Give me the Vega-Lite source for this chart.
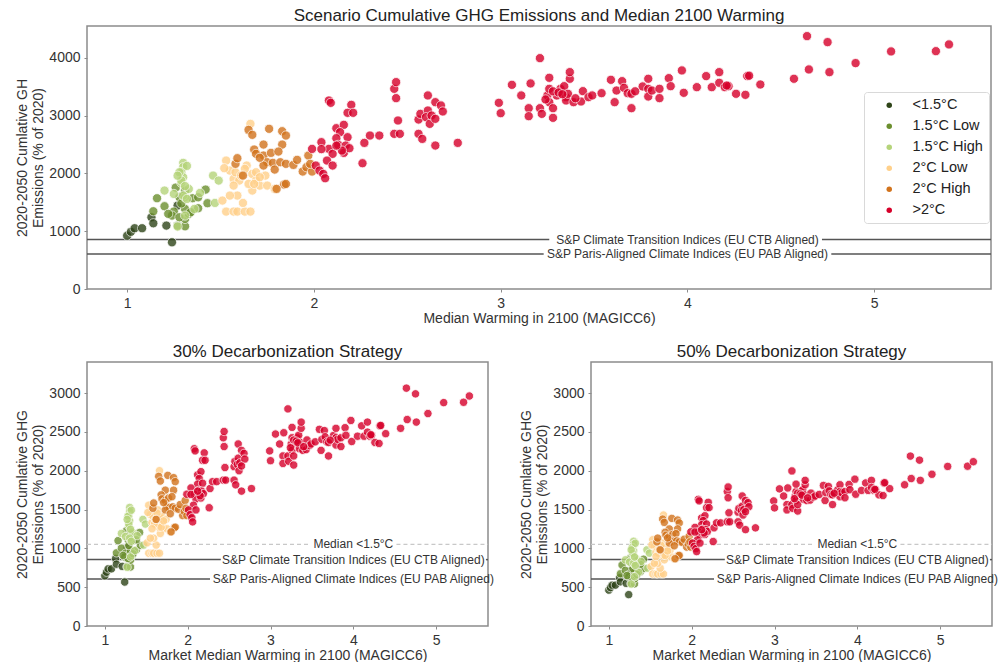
{
  "$schema": "https://vega.github.io/schema/vega-lite/v6.json",
  "padding": {"left": 15, "top": 6, "right": 5, "bottom": 2},
  "config": {
    "font": "Liberation Sans",
    "view": {"stroke": "#8c8c8c", "strokeWidth": 1.5},
    "axis": {"grid": false, "domain": false, "tickSize": 3, "tickColor": "#8c8c8c", "labelFontSize": 14, "labelColor": "#333333", "titleFontSize": 14, "titleFontWeight": "normal", "titleColor": "#333333", "labelPadding": 4, "format": "d"},
    "axisY": {"titlePadding": 3, "titleLineHeight": 16},
    "axisX": {"titlePadding": 1},
    "title": {"fontSize": 17, "fontWeight": "normal", "color": "#222222", "frame": "group", "offset": 1}
  },
  "datasets": {
    "pts": [
      {"c":"<1.5°C","x":1.00,"y":923,"y30":646,"y50":462},
      {"c":"<1.5°C","x":1.02,"y":990,"y30":693,"y50":495},
      {"c":"<1.5°C","x":1.04,"y":1051,"y30":736,"y50":526},
      {"c":"<1.5°C","x":1.08,"y":1051,"y30":736,"y50":526},
      {"c":"<1.5°C","x":1.13,"y":1241,"y30":869,"y50":621},
      {"c":"<1.5°C","x":1.14,"y":1137,"y30":796,"y50":569},
      {"c":"<1.5°C","x":1.21,"y":1097,"y30":768,"y50":549},
      {"c":"<1.5°C","x":1.24,"y":808,"y30":566,"y50":404},
      {"c":"<1.5°C","x":1.27,"y":1443,"y30":1010,"y50":722},
      {"c":"1.5°C Low","x":1.14,"y":1345,"y30":942,"y50":673},
      {"c":"1.5°C Low","x":1.16,"y":1570,"y30":1099,"y50":785},
      {"c":"1.5°C Low","x":1.20,"y":1432,"y30":1002,"y50":716},
      {"c":"1.5°C Low","x":1.25,"y":1339,"y30":937,"y50":670},
      {"c":"1.5°C Low","x":1.27,"y":1097,"y30":768,"y50":549},
      {"c":"1.5°C Low","x":1.26,"y":1754,"y30":1228,"y50":877},
      {"c":"1.5°C Low","x":1.31,"y":1703,"y30":1192,"y50":852},
      {"c":"1.5°C Low","x":1.31,"y":1085,"y30":760,"y50":543},
      {"c":"1.5°C Low","x":1.31,"y":1212,"y30":848,"y50":606},
      {"c":"1.5°C Low","x":1.35,"y":1570,"y30":1099,"y50":785},
      {"c":"1.5°C Low","x":1.38,"y":1397,"y30":978,"y50":699},
      {"c":"1.5°C Low","x":1.42,"y":1720,"y30":1204,"y50":860},
      {"c":"1.5°C Low","x":1.43,"y":1484,"y30":1039,"y50":742},
      {"c":"1.5°C Low","x":1.24,"y":1270,"y30":889,"y50":635},
      {"c":"1.5°C Low","x":1.28,"y":1241,"y30":869,"y50":621},
      {"c":"1.5°C Low","x":1.33,"y":1299,"y30":909,"y50":650},
      {"c":"1.5°C Low","x":1.28,"y":1588,"y30":1112,"y50":794},
      {"c":"1.5°C Low","x":1.31,"y":1385,"y30":970,"y50":693},
      {"c":"1.5°C Low","x":1.38,"y":1587,"y30":1111,"y50":794},
      {"c":"1.5°C Low","x":1.34,"y":1328,"y30":930,"y50":664},
      {"c":"1.5°C Low","x":1.29,"y":1480,"y30":1036,"y50":740},
      {"c":"1.5°C Low","x":1.22,"y":1300,"y30":910,"y50":650},
      {"c":"1.5°C High","x":1.30,"y":2182,"y30":1527,"y50":1091},
      {"c":"1.5°C High","x":1.30,"y":2107,"y30":1475,"y50":1054},
      {"c":"1.5°C High","x":1.29,"y":2020,"y30":1414,"y50":1010},
      {"c":"1.5°C High","x":1.30,"y":1934,"y30":1354,"y50":967},
      {"c":"1.5°C High","x":1.29,"y":1835,"y30":1285,"y50":918},
      {"c":"1.5°C High","x":1.20,"y":1703,"y30":1192,"y50":852},
      {"c":"1.5°C High","x":1.25,"y":1645,"y30":1152,"y50":823},
      {"c":"1.5°C High","x":1.31,"y":1588,"y30":1112,"y50":794},
      {"c":"1.5°C High","x":1.33,"y":1732,"y30":1212,"y50":866},
      {"c":"1.5°C High","x":1.39,"y":1662,"y30":1163,"y50":831},
      {"c":"1.5°C High","x":1.46,"y":1962,"y30":1373,"y50":981},
      {"c":"1.5°C High","x":1.49,"y":1876,"y30":1313,"y50":938},
      {"c":"1.5°C High","x":1.47,"y":1489,"y30":1042,"y50":745},
      {"c":"1.5°C High","x":1.36,"y":1385,"y30":970,"y50":693},
      {"c":"1.5°C High","x":1.27,"y":1080,"y30":756,"y50":540},
      {"c":"1.5°C High","x":1.28,"y":2020,"y30":1414,"y50":1010},
      {"c":"1.5°C High","x":1.29,"y":1876,"y30":1313,"y50":938},
      {"c":"1.5°C High","x":1.30,"y":1616,"y30":1131,"y50":808},
      {"c":"1.5°C High","x":1.32,"y":1558,"y30":1091,"y50":779},
      {"c":"1.5°C High","x":1.31,"y":1270,"y30":889,"y50":635},
      {"c":"1.5°C High","x":1.32,"y":2130,"y30":1491,"y50":1065},
      {"c":"1.5°C High","x":1.27,"y":1960,"y30":1372,"y50":980},
      {"c":"1.5°C High","x":1.31,"y":1780,"y30":1246,"y50":890},
      {"c":"2°C Low","x":1.66,"y":2857,"y30":2000,"y50":1429},
      {"c":"2°C Low","x":1.53,"y":2222,"y30":1555,"y50":1111},
      {"c":"2°C Low","x":1.55,"y":2049,"y30":1434,"y50":1025},
      {"c":"2°C Low","x":1.57,"y":1905,"y30":1334,"y50":953},
      {"c":"2°C Low","x":1.51,"y":1530,"y30":1071,"y50":765},
      {"c":"2°C Low","x":1.53,"y":1339,"y30":937,"y50":670},
      {"c":"2°C Low","x":1.57,"y":1339,"y30":937,"y50":670},
      {"c":"2°C Low","x":1.59,"y":1339,"y30":937,"y50":670},
      {"c":"2°C Low","x":1.63,"y":1339,"y30":937,"y50":670},
      {"c":"2°C Low","x":1.66,"y":1339,"y30":937,"y50":670},
      {"c":"2°C Low","x":1.62,"y":1489,"y30":1042,"y50":745},
      {"c":"2°C Low","x":1.59,"y":1616,"y30":1131,"y50":808},
      {"c":"2°C Low","x":1.55,"y":1616,"y30":1131,"y50":808},
      {"c":"2°C Low","x":1.64,"y":2136,"y30":1495,"y50":1068},
      {"c":"2°C Low","x":1.67,"y":1991,"y30":1394,"y50":996},
      {"c":"2°C Low","x":1.69,"y":1876,"y30":1313,"y50":938},
      {"c":"2°C Low","x":1.71,"y":1789,"y30":1252,"y50":895},
      {"c":"2°C Low","x":1.67,"y":1703,"y30":1192,"y50":852},
      {"c":"2°C Low","x":1.65,"y":1818,"y30":1273,"y50":909},
      {"c":"2°C Low","x":1.75,"y":1789,"y30":1252,"y50":895},
      {"c":"2°C Low","x":1.69,"y":2020,"y30":1414,"y50":1010},
      {"c":"2°C Low","x":1.74,"y":1962,"y30":1373,"y50":981},
      {"c":"2°C Low","x":1.60,"y":1876,"y30":1313,"y50":938},
      {"c":"2°C Low","x":1.58,"y":2020,"y30":1414,"y50":1010},
      {"c":"2°C Low","x":1.63,"y":2078,"y30":1455,"y50":1039},
      {"c":"2°C Low","x":1.68,"y":1818,"y30":1273,"y50":909},
      {"c":"2°C Low","x":1.71,"y":1934,"y30":1354,"y50":967},
      {"c":"2°C Low","x":1.57,"y":1789,"y30":1252,"y50":895},
      {"c":"2°C Low","x":1.52,"y":2090,"y30":1463,"y50":1045},
      {"c":"2°C Low","x":1.79,"y":1732,"y30":1212,"y50":866},
      {"c":"2°C Low","x":1.61,"y":1962,"y30":1373,"y50":981},
      {"c":"2°C High","x":1.65,"y":2753,"y30":1927,"y50":1377},
      {"c":"2°C High","x":1.67,"y":2667,"y30":1867,"y50":1334},
      {"c":"2°C High","x":1.76,"y":2771,"y30":1940,"y50":1386},
      {"c":"2°C High","x":1.83,"y":2730,"y30":1911,"y50":1365},
      {"c":"2°C High","x":1.85,"y":2655,"y30":1859,"y50":1328},
      {"c":"2°C High","x":1.73,"y":2499,"y30":1749,"y50":1250},
      {"c":"2°C High","x":1.83,"y":2499,"y30":1749,"y50":1250},
      {"c":"2°C High","x":1.68,"y":2413,"y30":1689,"y50":1207},
      {"c":"2°C High","x":1.69,"y":2338,"y30":1637,"y50":1169},
      {"c":"2°C High","x":1.73,"y":2309,"y30":1616,"y50":1155},
      {"c":"2°C High","x":1.77,"y":2355,"y30":1649,"y50":1178},
      {"c":"2°C High","x":1.81,"y":2378,"y30":1665,"y50":1189},
      {"c":"2°C High","x":1.75,"y":2193,"y30":1535,"y50":1097},
      {"c":"2°C High","x":1.78,"y":2182,"y30":1527,"y50":1091},
      {"c":"2°C High","x":1.82,"y":2193,"y30":1535,"y50":1097},
      {"c":"2°C High","x":1.85,"y":2165,"y30":1516,"y50":1083},
      {"c":"2°C High","x":1.89,"y":2147,"y30":1503,"y50":1074},
      {"c":"2°C High","x":1.91,"y":2234,"y30":1564,"y50":1117},
      {"c":"2°C High","x":1.73,"y":2136,"y30":1495,"y50":1068},
      {"c":"2°C High","x":1.79,"y":2066,"y30":1446,"y50":1033},
      {"c":"2°C High","x":1.58,"y":2165,"y30":1516,"y50":1083},
      {"c":"2°C High","x":1.59,"y":2263,"y30":1584,"y50":1132},
      {"c":"2°C High","x":1.62,"y":1962,"y30":1373,"y50":981},
      {"c":"2°C High","x":1.84,"y":1807,"y30":1265,"y50":904},
      {"c":"2°C High","x":1.85,"y":1818,"y30":1273,"y50":909},
      {"c":"2°C High","x":1.94,"y":2032,"y30":1422,"y50":1016},
      {"c":"2°C High","x":1.96,"y":2107,"y30":1475,"y50":1054},
      {"c":"2°C High","x":1.97,"y":2309,"y30":1616,"y50":1155},
      {"c":"2°C High","x":1.99,"y":2032,"y30":1422,"y50":1016},
      {"c":"2°C High","x":1.98,"y":2165,"y30":1516,"y50":1083},
      {"c":"2°C High","x":1.80,"y":1732,"y30":1212,"y50":866},
      {"c":"2°C High","x":1.71,"y":2270,"y30":1589,"y50":1135},
      {"c":">2°C","x":2.08,"y":3261,"y30":2283,"y50":1631},
      {"c":">2°C","x":2.09,"y":3221,"y30":2255,"y50":1611},
      {"c":">2°C","x":2.20,"y":3186,"y30":2230,"y50":1593},
      {"c":">2°C","x":2.18,"y":3048,"y30":2134,"y50":1524},
      {"c":">2°C","x":2.21,"y":3048,"y30":2134,"y50":1524},
      {"c":">2°C","x":2.12,"y":2782,"y30":1947,"y50":1391},
      {"c":">2°C","x":2.16,"y":2840,"y30":1988,"y50":1420},
      {"c":">2°C","x":2.14,"y":2713,"y30":1899,"y50":1357},
      {"c":">2°C","x":2.12,"y":2609,"y30":1826,"y50":1305},
      {"c":">2°C","x":2.18,"y":2626,"y30":1838,"y50":1313},
      {"c":">2°C","x":2.13,"y":2494,"y30":1746,"y50":1247},
      {"c":">2°C","x":2.17,"y":2482,"y30":1737,"y50":1241},
      {"c":">2°C","x":2.04,"y":2540,"y30":1778,"y50":1270},
      {"c":">2°C","x":1.99,"y":2424,"y30":1697,"y50":1212},
      {"c":">2°C","x":2.08,"y":2424,"y30":1697,"y50":1212},
      {"c":">2°C","x":2.10,"y":2338,"y30":1637,"y50":1169},
      {"c":">2°C","x":2.16,"y":2355,"y30":1649,"y50":1178},
      {"c":">2°C","x":2.19,"y":2436,"y30":1705,"y50":1218},
      {"c":">2°C","x":2.15,"y":2395,"y30":1677,"y50":1198},
      {"c":">2°C","x":2.07,"y":2222,"y30":1555,"y50":1111},
      {"c":">2°C","x":2.01,"y":2136,"y30":1495,"y50":1068},
      {"c":">2°C","x":2.03,"y":2049,"y30":1434,"y50":1025},
      {"c":">2°C","x":2.05,"y":1991,"y30":1394,"y50":996},
      {"c":">2°C","x":2.06,"y":1916,"y30":1341,"y50":958},
      {"c":">2°C","x":2.10,"y":2136,"y30":1495,"y50":1068},
      {"c":">2°C","x":2.26,"y":2176,"y30":1523,"y50":1088},
      {"c":">2°C","x":2.27,"y":2528,"y30":1770,"y50":1264},
      {"c":">2°C","x":2.30,"y":2655,"y30":1859,"y50":1328},
      {"c":">2°C","x":2.35,"y":2655,"y30":1859,"y50":1328},
      {"c":">2°C","x":2.43,"y":3463,"y30":2424,"y50":1732},
      {"c":">2°C","x":2.44,"y":3579,"y30":2505,"y50":1790},
      {"c":">2°C","x":2.44,"y":3302,"y30":2311,"y50":1651},
      {"c":">2°C","x":2.45,"y":2915,"y30":2041,"y50":1458},
      {"c":">2°C","x":2.43,"y":2684,"y30":1879,"y50":1342},
      {"c":">2°C","x":2.46,"y":2684,"y30":1879,"y50":1342},
      {"c":">2°C","x":2.56,"y":2932,"y30":2052,"y50":1466},
      {"c":">2°C","x":2.56,"y":2684,"y30":1879,"y50":1342},
      {"c":">2°C","x":2.58,"y":2597,"y30":1818,"y50":1299},
      {"c":">2°C","x":2.57,"y":3030,"y30":2121,"y50":1515},
      {"c":">2°C","x":2.61,"y":3348,"y30":2344,"y50":1674},
      {"c":">2°C","x":2.61,"y":3088,"y30":2162,"y50":1544},
      {"c":">2°C","x":2.60,"y":2973,"y30":2081,"y50":1487},
      {"c":">2°C","x":2.62,"y":2857,"y30":2000,"y50":1429},
      {"c":">2°C","x":2.63,"y":3001,"y30":2101,"y50":1501},
      {"c":">2°C","x":2.65,"y":3232,"y30":2262,"y50":1616},
      {"c":">2°C","x":2.68,"y":3175,"y30":2223,"y50":1588},
      {"c":">2°C","x":2.69,"y":3071,"y30":2150,"y50":1536},
      {"c":">2°C","x":2.65,"y":2944,"y30":2061,"y50":1472},
      {"c":">2°C","x":2.65,"y":2482,"y30":1737,"y50":1241},
      {"c":">2°C","x":2.77,"y":2528,"y30":1770,"y50":1264},
      {"c":">2°C","x":2.04,"y":2420,"y30":1694,"y50":1210},
      {"c":">2°C","x":2.12,"y":2480,"y30":1736,"y50":1240},
      {"c":">2°C","x":2.99,"y":3221,"y30":2255,"y50":1611},
      {"c":">2°C","x":3.00,"y":3042,"y30":2129,"y50":1521},
      {"c":">2°C","x":3.06,"y":3532,"y30":2472,"y50":1766},
      {"c":">2°C","x":3.11,"y":3348,"y30":2344,"y50":1674},
      {"c":">2°C","x":3.15,"y":3128,"y30":2190,"y50":1564},
      {"c":">2°C","x":3.15,"y":2990,"y30":2093,"y50":1495},
      {"c":">2°C","x":3.16,"y":3556,"y30":2489,"y50":1778},
      {"c":">2°C","x":3.21,"y":3994,"y30":2796,"y50":1997},
      {"c":">2°C","x":3.21,"y":3128,"y30":2190,"y50":1564},
      {"c":">2°C","x":3.22,"y":3030,"y30":2121,"y50":1515},
      {"c":">2°C","x":3.25,"y":3348,"y30":2344,"y50":1674},
      {"c":">2°C","x":3.26,"y":3463,"y30":2424,"y50":1732},
      {"c":">2°C","x":3.26,"y":3654,"y30":2558,"y50":1827},
      {"c":">2°C","x":3.26,"y":3232,"y30":2262,"y50":1616},
      {"c":">2°C","x":3.28,"y":2961,"y30":2073,"y50":1481},
      {"c":">2°C","x":3.28,"y":3128,"y30":2190,"y50":1564},
      {"c":">2°C","x":3.30,"y":3348,"y30":2344,"y50":1674},
      {"c":">2°C","x":3.32,"y":3463,"y30":2424,"y50":1732},
      {"c":">2°C","x":3.34,"y":3509,"y30":2456,"y50":1755},
      {"c":">2°C","x":3.35,"y":3319,"y30":2323,"y50":1660},
      {"c":">2°C","x":3.35,"y":3261,"y30":2283,"y50":1631},
      {"c":">2°C","x":3.36,"y":3377,"y30":2364,"y50":1689},
      {"c":">2°C","x":3.37,"y":3637,"y30":2546,"y50":1819},
      {"c":">2°C","x":3.37,"y":3752,"y30":2626,"y50":1876},
      {"c":">2°C","x":3.39,"y":3232,"y30":2262,"y50":1616},
      {"c":">2°C","x":3.43,"y":3244,"y30":2271,"y50":1622},
      {"c":">2°C","x":3.44,"y":3423,"y30":2396,"y50":1712},
      {"c":">2°C","x":3.47,"y":3319,"y30":2323,"y50":1660},
      {"c":">2°C","x":3.49,"y":3348,"y30":2344,"y50":1674},
      {"c":">2°C","x":3.54,"y":3388,"y30":2372,"y50":1694},
      {"c":">2°C","x":3.59,"y":3619,"y30":2533,"y50":1810},
      {"c":">2°C","x":3.61,"y":3232,"y30":2262,"y50":1616},
      {"c":">2°C","x":3.62,"y":3434,"y30":2404,"y50":1717},
      {"c":">2°C","x":3.65,"y":3596,"y30":2517,"y50":1798},
      {"c":">2°C","x":3.66,"y":3480,"y30":2436,"y50":1740},
      {"c":">2°C","x":3.68,"y":3388,"y30":2372,"y50":1694},
      {"c":">2°C","x":3.70,"y":3128,"y30":2190,"y50":1564},
      {"c":">2°C","x":3.70,"y":3377,"y30":2364,"y50":1689},
      {"c":">2°C","x":3.76,"y":3504,"y30":2453,"y50":1752},
      {"c":">2°C","x":3.79,"y":3637,"y30":2546,"y50":1819},
      {"c":">2°C","x":3.79,"y":3463,"y30":2424,"y50":1732},
      {"c":">2°C","x":3.79,"y":3330,"y30":2331,"y50":1665},
      {"c":">2°C","x":3.81,"y":3434,"y30":2404,"y50":1717},
      {"c":">2°C","x":3.85,"y":3463,"y30":2424,"y50":1732},
      {"c":">2°C","x":3.85,"y":3302,"y30":2311,"y50":1651},
      {"c":">2°C","x":3.90,"y":3648,"y30":2554,"y50":1824},
      {"c":">2°C","x":3.91,"y":3509,"y30":2456,"y50":1755},
      {"c":">2°C","x":3.97,"y":3781,"y30":2647,"y50":1891},
      {"c":">2°C","x":3.98,"y":3394,"y30":2376,"y50":1697},
      {"c":">2°C","x":4.05,"y":3492,"y30":2444,"y50":1746},
      {"c":">2°C","x":4.10,"y":3683,"y30":2578,"y50":1842},
      {"c":">2°C","x":4.13,"y":3492,"y30":2444,"y50":1746},
      {"c":">2°C","x":4.17,"y":3752,"y30":2626,"y50":1876},
      {"c":">2°C","x":4.17,"y":3567,"y30":2497,"y50":1784},
      {"c":">2°C","x":4.20,"y":3492,"y30":2444,"y50":1746},
      {"c":">2°C","x":4.22,"y":3509,"y30":2456,"y50":1755},
      {"c":">2°C","x":4.26,"y":3377,"y30":2364,"y50":1689},
      {"c":">2°C","x":4.31,"y":3359,"y30":2351,"y50":1680},
      {"c":">2°C","x":4.32,"y":3683,"y30":2578,"y50":1842},
      {"c":">2°C","x":4.39,"y":3538,"y30":2477,"y50":1769},
      {"c":">2°C","x":4.57,"y":3637,"y30":2546,"y50":1819},
      {"c":">2°C","x":4.64,"y":4375,"y30":3063,"y50":2188},
      {"c":">2°C","x":4.65,"y":3798,"y30":2659,"y50":1899},
      {"c":">2°C","x":4.75,"y":4271,"y30":2990,"y50":2136},
      {"c":">2°C","x":4.76,"y":3752,"y30":2626,"y50":1876},
      {"c":">2°C","x":4.90,"y":3908,"y30":2736,"y50":1954},
      {"c":">2°C","x":5.09,"y":4110,"y30":2877,"y50":2055},
      {"c":">2°C","x":5.33,"y":4115,"y30":2881,"y50":2058},
      {"c":">2°C","x":5.40,"y":4231,"y30":2962,"y50":2116},
      {"c":">2°C","x":3.28,"y":3420,"y30":2394,"y50":1710},
      {"c":">2°C","x":3.31,"y":3400,"y30":2380,"y50":1700},
      {"c":">2°C","x":3.33,"y":3370,"y30":2359,"y50":1685},
      {"c":">2°C","x":3.40,"y":3300,"y30":2310,"y50":1650},
      {"c":">2°C","x":3.24,"y":3280,"y30":2296,"y50":1640},
      {"c":">2°C","x":3.72,"y":3420,"y30":2394,"y50":1710},
      {"c":">2°C","x":4.33,"y":3690,"y30":2583,"y50":1845},
      {"c":">2°C","x":4.21,"y":3520,"y30":2464,"y50":1760}
    ],
    "topRules": [
      {"y":855,"x":0.785,"x2":3.26},
      {"y":855,"x":4.72,"x2":5.625},
      {"y":605,"x":0.785,"x2":3.23},
      {"y":605,"x":4.77,"x2":5.625}
    ],
    "topText": [
      {"t":"S&P Climate Transition Indices (EU CTB Aligned)","x":4.0,"y":855},
      {"t":"S&P Paris-Aligned Climate Indices (EU PAB Aligned)","x":4.0,"y":605}
    ],
    "botRules": [
      {"y":855,"x":0.785,"x2":2.40},
      {"y":855,"x":5.60,"x2":5.625},
      {"y":605,"x":0.785,"x2":2.27}
    ],
    "botDash": [
      {"y":1050,"x":0.785,"x2":3.48},
      {"y":1050,"x":4.52,"x2":5.625}
    ],
    "botText": [
      {"t":"Median <1.5°C","x":4.0,"y":1050},
      {"t":"S&P Climate Transition Indices (EU CTB Aligned)","x":4.0,"y":855},
      {"t":"S&P Paris-Aligned Climate Indices (EU PAB Aligned)","x":4.0,"y":605}
    ]
  },
  "resolve": {"scale": {"color": "independent"}, "legend": {"color": "independent"}},
  "spacing": 16,
  "vconcat": [
    {
      "width": 904,
      "height": 263,
      "title": {"text": "Scenario Cumulative GHG Emissions and Median 2100 Warming"},
      "layer": [
        {
          "data": {"name": "topRules"},
          "mark": {"type": "rule", "color": "#555555", "strokeWidth": 1.5},
          "encoding": {
            "x": {"field": "x", "type": "quantitative", "scale": {"domain": [0.785, 5.625], "nice": false, "zero": false}},
            "x2": {"field": "x2"},
            "y": {"field": "y", "type": "quantitative"}
          }
        },
        {
          "data": {"name": "topText"},
          "mark": {"type": "text", "fontSize": 12, "color": "#333333", "align": "center", "baseline": "middle"},
          "encoding": {
            "x": {"field": "x", "type": "quantitative"},
            "y": {"field": "y", "type": "quantitative"},
            "text": {"field": "t"}
          }
        },
        {
          "data": {"name": "pts"},
          "mark": {"type": "circle", "size": 85, "opacity": 0.8, "stroke": "white", "strokeWidth": 0.8},
          "encoding": {
            "x": {"field": "x", "type": "quantitative", "scale": {"domain": [0.785, 5.625], "nice": false, "zero": false}, "axis": {"values": [1, 2, 3, 4, 5], "title": "Median Warming in 2100 (MAGICC6)"}},
            "y": {"field": "y", "type": "quantitative", "scale": {"domain": [0, 4550], "nice": false}, "axis": {"values": [0, 1000, 2000, 3000, 4000], "title": ["2020-2050 Cumlative GH", "Emissions (% of 2020)"]}},
            "color": {
              "field": "c", "type": "nominal",
              "scale": {"domain": ["<1.5°C", "1.5°C Low", "1.5°C High", "2°C Low", "2°C High", ">2°C"], "range": ["#2e4418", "#6b8f2e", "#b5d47a", "#ffd08a", "#d2731c", "#d6002a"]},
              "legend": {"title": null, "orient": "none", "legendX": 777, "legendY": 66, "padding": 6, "fillColor": "white", "strokeColor": "#d9d9d9", "cornerRadius": 3, "labelFontSize": 14.5, "labelColor": "#222222", "symbolSize": 30, "symbolType": "circle", "symbolOpacity": 1, "symbolStrokeWidth": 0, "rowPadding": 6, "labelOffset": 16, "symbolOffset": 12}
            }
          }
        }
      ]
    },
    {
      "spacing": 23,
      "resolve": {"scale": {"color": "independent"}, "legend": {"color": "independent"}},
      "hconcat": [
        {
          "width": 401,
          "height": 264,
          "title": {"text": "30% Decarbonization Strategy"},
          "layer": [
            {
              "data": {"name": "botDash"},
              "mark": {"type": "rule", "color": "#c8c8c8", "strokeWidth": 1.3, "strokeDash": [4, 3]},
              "encoding": {
                "x": {"field": "x", "type": "quantitative", "scale": {"domain": [0.785, 5.625], "nice": false, "zero": false}},
                "x2": {"field": "x2"},
                "y": {"field": "y", "type": "quantitative"}
              }
            },
            {
              "data": {"name": "botRules"},
              "mark": {"type": "rule", "color": "#555555", "strokeWidth": 1.5},
              "encoding": {
                "x": {"field": "x", "type": "quantitative"},
                "x2": {"field": "x2"},
                "y": {"field": "y", "type": "quantitative"}
              }
            },
            {
              "data": {"name": "botText"},
              "mark": {"type": "text", "fontSize": 12, "color": "#333333", "align": "center", "baseline": "middle"},
              "encoding": {
                "x": {"field": "x", "type": "quantitative"},
                "y": {"field": "y", "type": "quantitative"},
                "text": {"field": "t"}
              }
            },
            {
              "data": {"name": "pts"},
              "mark": {"type": "circle", "size": 70, "opacity": 0.8, "stroke": "white", "strokeWidth": 0.8},
              "encoding": {
                "x": {"field": "x", "type": "quantitative", "scale": {"domain": [0.785, 5.625], "nice": false, "zero": false}, "axis": {"values": [1, 2, 3, 4, 5], "title": "Market Median Warming in 2100 (MAGICC6)"}},
                "y": {"field": "y30", "type": "quantitative", "scale": {"domain": [0, 3400], "nice": false}, "axis": {"values": [0, 500, 1000, 1500, 2000, 2500, 3000], "title": ["2020-2050 Cumlative GHG", "Emissions (% of 2020)"]}},
                "color": {
                  "field": "c", "type": "nominal",
                  "scale": {"domain": ["<1.5°C", "1.5°C Low", "1.5°C High", "2°C Low", "2°C High", ">2°C"], "range": ["#2e4418", "#6b8f2e", "#b5d47a", "#ffd08a", "#d2731c", "#d6002a"]},
                  "legend": null
                }
              }
            }
          ]
        },
        {
          "width": 401,
          "height": 264,
          "title": {"text": "50% Decarbonization Strategy"},
          "layer": [
            {
              "data": {"name": "botDash"},
              "mark": {"type": "rule", "color": "#c8c8c8", "strokeWidth": 1.3, "strokeDash": [4, 3]},
              "encoding": {
                "x": {"field": "x", "type": "quantitative", "scale": {"domain": [0.785, 5.625], "nice": false, "zero": false}},
                "x2": {"field": "x2"},
                "y": {"field": "y", "type": "quantitative"}
              }
            },
            {
              "data": {"name": "botRules"},
              "mark": {"type": "rule", "color": "#555555", "strokeWidth": 1.5},
              "encoding": {
                "x": {"field": "x", "type": "quantitative"},
                "x2": {"field": "x2"},
                "y": {"field": "y", "type": "quantitative"}
              }
            },
            {
              "data": {"name": "botText"},
              "mark": {"type": "text", "fontSize": 12, "color": "#333333", "align": "center", "baseline": "middle"},
              "encoding": {
                "x": {"field": "x", "type": "quantitative"},
                "y": {"field": "y", "type": "quantitative"},
                "text": {"field": "t"}
              }
            },
            {
              "data": {"name": "pts"},
              "mark": {"type": "circle", "size": 70, "opacity": 0.8, "stroke": "white", "strokeWidth": 0.8},
              "encoding": {
                "x": {"field": "x", "type": "quantitative", "scale": {"domain": [0.785, 5.625], "nice": false, "zero": false}, "axis": {"values": [1, 2, 3, 4, 5], "title": "Market Median Warming in 2100 (MAGICC6)"}},
                "y": {"field": "y50", "type": "quantitative", "scale": {"domain": [0, 3400], "nice": false}, "axis": {"values": [0, 500, 1000, 1500, 2000, 2500, 3000], "title": ["2020-2050 Cumlative GHG", "Emissions (% of 2020)"]}},
                "color": {
                  "field": "c", "type": "nominal",
                  "scale": {"domain": ["<1.5°C", "1.5°C Low", "1.5°C High", "2°C Low", "2°C High", ">2°C"], "range": ["#2e4418", "#6b8f2e", "#b5d47a", "#ffd08a", "#d2731c", "#d6002a"]},
                  "legend": null
                }
              }
            }
          ]
        }
      ]
    }
  ]
}
